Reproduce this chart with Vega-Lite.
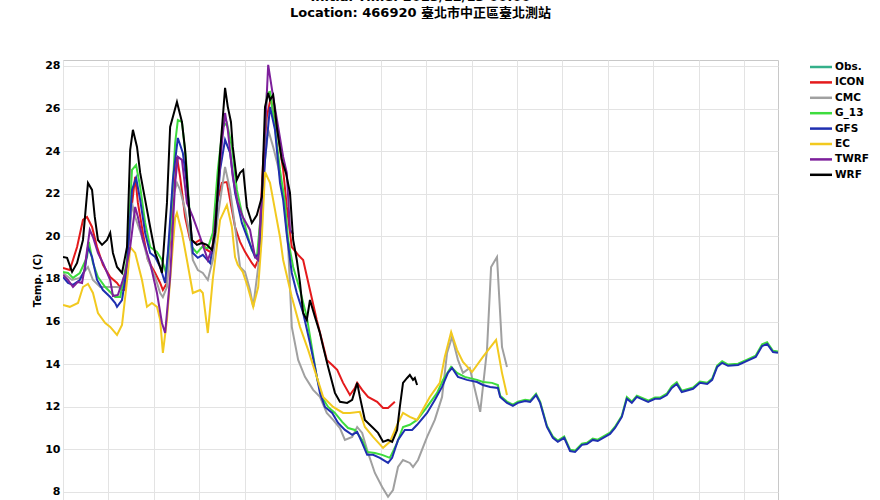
{
"$schema": "https://vega.github.io/schema/vega-lite/v6.json",
"autosize": {"type": "none"},
"padding": {"left": 63, "top": 60, "right": 102, "bottom": 0},
"width": 715,
"height": 440,
"background": "white",
"title": {"text": ["Initial Time: 2023/12/13 00:00", "Location: 466920 臺北市中正區臺北測站"], "font": "DejaVu Sans, Noto Sans CJK TC", "fontSize": 13, "fontWeight": "bold", "lineHeight": 16, "offset": 40, "anchor": "middle", "color": "black"},
"config": {"view": {"stroke": "#c8c8c8", "strokeWidth": 1}, "font": "DejaVu Sans"},
"datasets": {
"ICON": [[0,18.52],[0.15,18.42],[0.31,19.5],[0.44,20.77],[0.53,20.91],[0.64,20.44],[0.75,19.5],[0.88,18.66],[1.04,18.09],[1.19,17.81],[1.3,17.48],[1.37,17.48],[1.48,20.77],[1.59,22.79],[1.65,21.57],[1.76,20.16],[1.87,18.89],[2.03,18.28],[2.14,17.81],[2.2,17.48],[2.29,17.81],[2.4,20.91],[2.51,23.73],[2.58,22.79],[2.69,20.91],[2.8,19.83],[2.91,19.69],[3.02,19.83],[3.17,19.36],[3.28,19.22],[3.39,21.57],[3.5,22.51],[3.61,22.55],[3.68,21.71],[3.79,20.44],[3.9,19.74],[4.01,19.27],[4.16,18.75],[4.23,18.56],[4.3,18.89],[4.41,23.59],[4.49,25.61],[4.58,26.54],[4.63,25.79],[4.74,24.67],[4.85,23.12],[4.93,21.38],[5.04,19.5],[5.18,19.13],[5.29,18.89],[5.44,17.48],[5.59,16.07],[5.7,15.14],[5.81,14.2],[5.93,13.96],[6.04,13.73],[6.17,13.12],[6.32,12.55],[6.43,12.88],[6.48,13.12],[6.59,12.79],[6.72,12.46],[6.92,12.23],[7.05,11.94],[7.16,11.94],[7.31,12.23]]
},
"data": {"values": [
{"m":"ICON","d":0,"t":18.52},{"m":"ICON","d":0.15,"t":18.42},{"m":"ICON","d":0.31,"t":19.5},{"m":"ICON","d":0.44,"t":20.77},{"m":"ICON","d":0.53,"t":20.91},{"m":"ICON","d":0.64,"t":20.44},{"m":"ICON","d":0.75,"t":19.5},{"m":"ICON","d":0.88,"t":18.66},{"m":"ICON","d":1.04,"t":18.09},{"m":"ICON","d":1.19,"t":17.81},{"m":"ICON","d":1.3,"t":17.48},{"m":"ICON","d":1.37,"t":17.48},{"m":"ICON","d":1.48,"t":20.77},{"m":"ICON","d":1.59,"t":22.79},{"m":"ICON","d":1.65,"t":21.57},{"m":"ICON","d":1.76,"t":20.16},{"m":"ICON","d":1.87,"t":18.89},{"m":"ICON","d":2.03,"t":18.28},{"m":"ICON","d":2.14,"t":17.81},{"m":"ICON","d":2.2,"t":17.48},{"m":"ICON","d":2.29,"t":17.81},{"m":"ICON","d":2.4,"t":20.91},{"m":"ICON","d":2.51,"t":23.73},{"m":"ICON","d":2.58,"t":22.79},{"m":"ICON","d":2.69,"t":20.91},{"m":"ICON","d":2.8,"t":19.83},{"m":"ICON","d":2.91,"t":19.69},{"m":"ICON","d":3.02,"t":19.83},{"m":"ICON","d":3.17,"t":19.36},{"m":"ICON","d":3.28,"t":19.22},{"m":"ICON","d":3.39,"t":21.57},{"m":"ICON","d":3.5,"t":22.51},{"m":"ICON","d":3.61,"t":22.55},{"m":"ICON","d":3.68,"t":21.71},{"m":"ICON","d":3.79,"t":20.44},{"m":"ICON","d":3.9,"t":19.74},{"m":"ICON","d":4.01,"t":19.27},{"m":"ICON","d":4.16,"t":18.75},{"m":"ICON","d":4.23,"t":18.56},{"m":"ICON","d":4.3,"t":18.89},{"m":"ICON","d":4.41,"t":23.59},{"m":"ICON","d":4.49,"t":25.61},{"m":"ICON","d":4.58,"t":26.54},{"m":"ICON","d":4.63,"t":25.79},{"m":"ICON","d":4.74,"t":24.67},{"m":"ICON","d":4.85,"t":23.12},{"m":"ICON","d":4.93,"t":21.38},{"m":"ICON","d":5.04,"t":19.5},{"m":"ICON","d":5.18,"t":19.13},{"m":"ICON","d":5.29,"t":18.89},{"m":"ICON","d":5.44,"t":17.48},{"m":"ICON","d":5.59,"t":16.07},{"m":"ICON","d":5.7,"t":15.14},{"m":"ICON","d":5.81,"t":14.2},{"m":"ICON","d":5.93,"t":13.96},{"m":"ICON","d":6.04,"t":13.73},{"m":"ICON","d":6.17,"t":13.12},{"m":"ICON","d":6.32,"t":12.55},{"m":"ICON","d":6.43,"t":12.88},{"m":"ICON","d":6.48,"t":13.12},{"m":"ICON","d":6.59,"t":12.79},{"m":"ICON","d":6.72,"t":12.46},{"m":"ICON","d":6.92,"t":12.23},{"m":"ICON","d":7.05,"t":11.94},{"m":"ICON","d":7.16,"t":11.94},{"m":"ICON","d":7.31,"t":12.23},
{"m":"CMC","d":0,"t":18.28},{"m":"CMC","d":0.2,"t":17.95},{"m":"CMC","d":0.37,"t":18.05},{"m":"CMC","d":0.55,"t":18.56},{"m":"CMC","d":0.66,"t":17.95},{"m":"CMC","d":0.82,"t":17.62},{"m":"CMC","d":1.04,"t":17.62},{"m":"CMC","d":1.19,"t":17.62},{"m":"CMC","d":1.3,"t":17.58},{"m":"CMC","d":1.41,"t":18.42},{"m":"CMC","d":1.52,"t":21.57},{"m":"CMC","d":1.59,"t":20.91},{"m":"CMC","d":1.74,"t":19.97},{"m":"CMC","d":1.87,"t":18.89},{"m":"CMC","d":2.03,"t":18.09},{"m":"CMC","d":2.14,"t":17.34},{"m":"CMC","d":2.2,"t":17.15},{"m":"CMC","d":2.29,"t":17.62},{"m":"CMC","d":2.4,"t":21.71},{"m":"CMC","d":2.51,"t":22.51},{"m":"CMC","d":2.58,"t":22.18},{"m":"CMC","d":2.69,"t":21.24},{"m":"CMC","d":2.8,"t":19.97},{"m":"CMC","d":2.86,"t":18.89},{"m":"CMC","d":2.97,"t":18.42},{"m":"CMC","d":3.08,"t":18.28},{"m":"CMC","d":3.19,"t":17.95},{"m":"CMC","d":3.3,"t":18.89},{"m":"CMC","d":3.41,"t":20.91},{"m":"CMC","d":3.57,"t":23.26},{"m":"CMC","d":3.68,"t":22.18},{"m":"CMC","d":3.79,"t":20.44},{"m":"CMC","d":3.9,"t":18.56},{"m":"CMC","d":4.01,"t":18.33},{"m":"CMC","d":4.12,"t":17.48},{"m":"CMC","d":4.19,"t":16.69},{"m":"CMC","d":4.3,"t":18.56},{"m":"CMC","d":4.41,"t":22.79},{"m":"CMC","d":4.52,"t":25.0},{"m":"CMC","d":4.63,"t":24.2},{"m":"CMC","d":4.74,"t":23.26},{"m":"CMC","d":4.85,"t":22.04},{"m":"CMC","d":4.96,"t":19.5},{"m":"CMC","d":5.04,"t":15.75},{"m":"CMC","d":5.18,"t":14.2},{"m":"CMC","d":5.33,"t":13.4},{"m":"CMC","d":5.51,"t":12.79},{"m":"CMC","d":5.66,"t":12.46},{"m":"CMC","d":5.81,"t":11.71},{"m":"CMC","d":5.95,"t":11.38},{"m":"CMC","d":6.1,"t":11.0},{"m":"CMC","d":6.21,"t":10.44},{"m":"CMC","d":6.37,"t":10.58},{"m":"CMC","d":6.48,"t":11.05},{"m":"CMC","d":6.59,"t":10.77},{"m":"CMC","d":6.72,"t":9.83},{"m":"CMC","d":6.87,"t":8.89},{"m":"CMC","d":7.03,"t":8.23},{"m":"CMC","d":7.16,"t":7.77},{"m":"CMC","d":7.27,"t":8.09},{"m":"CMC","d":7.38,"t":9.17},{"m":"CMC","d":7.49,"t":9.5},{"m":"CMC","d":7.64,"t":9.36},{"m":"CMC","d":7.71,"t":9.17},{"m":"CMC","d":7.82,"t":9.5},{"m":"CMC","d":8.02,"t":10.58},{"m":"CMC","d":8.19,"t":11.38},{"m":"CMC","d":8.35,"t":12.46},{"m":"CMC","d":8.46,"t":14.53},{"m":"CMC","d":8.57,"t":15.28},{"m":"CMC","d":8.7,"t":14.2},{"m":"CMC","d":8.81,"t":13.59},{"m":"CMC","d":8.96,"t":13.82},{"m":"CMC","d":9.19,"t":11.76},{"m":"CMC","d":9.34,"t":14.67},{"m":"CMC","d":9.43,"t":18.56},{"m":"CMC","d":9.56,"t":19.03},{"m":"CMC","d":9.67,"t":14.81},{"m":"CMC","d":9.78,"t":13.87},
{"m":"G_13","d":0,"t":18.33},{"m":"G_13","d":0.11,"t":18.28},{"m":"G_13","d":0.22,"t":18.05},{"m":"G_13","d":0.37,"t":18.28},{"m":"G_13","d":0.53,"t":19.03},{"m":"G_13","d":0.57,"t":19.74},{"m":"G_13","d":0.66,"t":18.75},{"m":"G_13","d":0.77,"t":18.09},{"m":"G_13","d":0.93,"t":17.62},{"m":"G_13","d":1.04,"t":17.39},{"m":"G_13","d":1.15,"t":17.15},{"m":"G_13","d":1.26,"t":17.15},{"m":"G_13","d":1.41,"t":18.89},{"m":"G_13","d":1.52,"t":23.12},{"m":"G_13","d":1.61,"t":23.35},{"m":"G_13","d":1.7,"t":22.32},{"m":"G_13","d":1.81,"t":20.63},{"m":"G_13","d":1.92,"t":19.5},{"m":"G_13","d":2.07,"t":19.27},{"m":"G_13","d":2.18,"t":18.89},{"m":"G_13","d":2.27,"t":18.28},{"m":"G_13","d":2.36,"t":20.16},{"m":"G_13","d":2.47,"t":24.38},{"m":"G_13","d":2.53,"t":25.46},{"m":"G_13","d":2.62,"t":25.37},{"m":"G_13","d":2.71,"t":23.59},{"m":"G_13","d":2.84,"t":19.5},{"m":"G_13","d":2.95,"t":19.22},{"m":"G_13","d":3.06,"t":19.5},{"m":"G_13","d":3.19,"t":19.45},{"m":"G_13","d":3.3,"t":20.16},{"m":"G_13","d":3.41,"t":23.12},{"m":"G_13","d":3.52,"t":25.14},{"m":"G_13","d":3.61,"t":25.32},{"m":"G_13","d":3.72,"t":24.2},{"m":"G_13","d":3.83,"t":22.18},{"m":"G_13","d":3.94,"t":21.1},{"m":"G_13","d":4.05,"t":20.16},{"m":"G_13","d":4.16,"t":19.36},{"m":"G_13","d":4.27,"t":18.99},{"m":"G_13","d":4.38,"t":21.57},{"m":"G_13","d":4.49,"t":26.73},{"m":"G_13","d":4.56,"t":26.78},{"m":"G_13","d":4.67,"t":25.14},{"m":"G_13","d":4.78,"t":23.12},{"m":"G_13","d":4.89,"t":21.57},{"m":"G_13","d":4.96,"t":19.83},{"m":"G_13","d":5.07,"t":18.56},{"m":"G_13","d":5.22,"t":17.48},{"m":"G_13","d":5.37,"t":16.22},{"m":"G_13","d":5.48,"t":14.81},{"m":"G_13","d":5.59,"t":13.4},{"m":"G_13","d":5.7,"t":12.46},{"m":"G_13","d":5.84,"t":11.99},{"m":"G_13","d":5.99,"t":11.71},{"m":"G_13","d":6.15,"t":11.29},{"m":"G_13","d":6.28,"t":11.0},{"m":"G_13","d":6.43,"t":10.91},{"m":"G_13","d":6.59,"t":10.44},{"m":"G_13","d":6.7,"t":9.88},{"m":"G_13","d":6.87,"t":9.83},{"m":"G_13","d":7.03,"t":9.74},{"m":"G_13","d":7.2,"t":9.6},{"m":"G_13","d":7.36,"t":10.3},{"m":"G_13","d":7.49,"t":11.05},{"m":"G_13","d":7.64,"t":11.15},{"m":"G_13","d":7.8,"t":11.38},{"m":"G_13","d":8.02,"t":11.99},{"m":"G_13","d":8.24,"t":12.65},{"m":"G_13","d":8.37,"t":13.26},{"m":"G_13","d":8.55,"t":13.87},{"m":"G_13","d":8.68,"t":13.59},{"m":"G_13","d":8.85,"t":13.4},{"m":"G_13","d":9.12,"t":13.26},{"m":"G_13","d":9.25,"t":13.16},{"m":"G_13","d":9.45,"t":13.12},{"m":"G_13","d":9.58,"t":13.02},{"m":"G_13","d":9.63,"t":12.52},{"m":"G_13","d":9.78,"t":12.24},{"m":"G_13","d":9.91,"t":12.1},{"m":"G_13","d":10.02,"t":12.24},{"m":"G_13","d":10.18,"t":12.33},{"m":"G_13","d":10.29,"t":12.29},{"m":"G_13","d":10.42,"t":12.61},{"m":"G_13","d":10.51,"t":12.24},{"m":"G_13","d":10.66,"t":11.11},{"m":"G_13","d":10.79,"t":10.6},{"m":"G_13","d":10.9,"t":10.41},{"m":"G_13","d":11.04,"t":10.6},{"m":"G_13","d":11.17,"t":9.98},{"m":"G_13","d":11.28,"t":9.94},{"m":"G_13","d":11.43,"t":10.27},{"m":"G_13","d":11.54,"t":10.31},{"m":"G_13","d":11.67,"t":10.5},{"m":"G_13","d":11.78,"t":10.45},{"m":"G_13","d":12.05,"t":10.78},{"m":"G_13","d":12.16,"t":11.06},{"m":"G_13","d":12.31,"t":11.58},{"m":"G_13","d":12.42,"t":12.45},{"m":"G_13","d":12.53,"t":12.24},{"m":"G_13","d":12.64,"t":12.52},{"m":"G_13","d":12.89,"t":12.29},{"m":"G_13","d":13.04,"t":12.43},{"m":"G_13","d":13.15,"t":12.43},{"m":"G_13","d":13.3,"t":12.61},{"m":"G_13","d":13.41,"t":12.96},{"m":"G_13","d":13.52,"t":13.15},{"m":"G_13","d":13.63,"t":12.75},{"m":"G_13","d":13.88,"t":12.9},{"m":"G_13","d":14.03,"t":13.18},{"m":"G_13","d":14.19,"t":13.13},{"m":"G_13","d":14.3,"t":13.32},{"m":"G_13","d":14.41,"t":13.93},{"m":"G_13","d":14.52,"t":14.14},{"m":"G_13","d":14.65,"t":13.98},{"m":"G_13","d":14.87,"t":14.02},{"m":"G_13","d":15.07,"t":14.21},{"m":"G_13","d":15.26,"t":14.4},{"m":"G_13","d":15.4,"t":14.93},{"m":"G_13","d":15.51,"t":15.03},{"m":"G_13","d":15.64,"t":14.63},{"m":"G_13","d":15.75,"t":14.59},
{"m":"GFS","d":0,"t":18.09},{"m":"GFS","d":0.11,"t":17.81},{"m":"GFS","d":0.22,"t":17.72},{"m":"GFS","d":0.37,"t":17.95},{"m":"GFS","d":0.48,"t":18.42},{"m":"GFS","d":0.55,"t":19.5},{"m":"GFS","d":0.64,"t":19.03},{"m":"GFS","d":0.75,"t":17.95},{"m":"GFS","d":0.88,"t":17.48},{"m":"GFS","d":1.04,"t":17.15},{"m":"GFS","d":1.15,"t":16.87},{"m":"GFS","d":1.19,"t":16.69},{"m":"GFS","d":1.3,"t":17.01},{"m":"GFS","d":1.41,"t":18.56},{"m":"GFS","d":1.52,"t":22.18},{"m":"GFS","d":1.61,"t":22.74},{"m":"GFS","d":1.7,"t":21.71},{"m":"GFS","d":1.81,"t":20.16},{"m":"GFS","d":1.92,"t":19.22},{"m":"GFS","d":2.03,"t":19.03},{"m":"GFS","d":2.14,"t":18.56},{"m":"GFS","d":2.25,"t":17.81},{"m":"GFS","d":2.31,"t":19.22},{"m":"GFS","d":2.42,"t":22.65},{"m":"GFS","d":2.53,"t":24.62},{"m":"GFS","d":2.64,"t":23.92},{"m":"GFS","d":2.75,"t":22.04},{"m":"GFS","d":2.86,"t":19.22},{"m":"GFS","d":2.97,"t":18.99},{"m":"GFS","d":3.08,"t":19.13},{"m":"GFS","d":3.24,"t":18.75},{"m":"GFS","d":3.35,"t":20.16},{"m":"GFS","d":3.46,"t":23.12},{"m":"GFS","d":3.57,"t":24.53},{"m":"GFS","d":3.68,"t":23.92},{"m":"GFS","d":3.79,"t":22.04},{"m":"GFS","d":3.94,"t":20.63},{"m":"GFS","d":4.08,"t":19.83},{"m":"GFS","d":4.23,"t":19.03},{"m":"GFS","d":4.34,"t":19.22},{"m":"GFS","d":4.45,"t":23.59},{"m":"GFS","d":4.56,"t":26.08},{"m":"GFS","d":4.67,"t":25.0},{"m":"GFS","d":4.78,"t":22.51},{"m":"GFS","d":4.85,"t":21.7},{"m":"GFS","d":4.93,"t":20.07},{"m":"GFS","d":5.04,"t":18.28},{"m":"GFS","d":5.15,"t":17.34},{"m":"GFS","d":5.29,"t":16.4},{"m":"GFS","d":5.44,"t":14.99},{"m":"GFS","d":5.55,"t":13.87},{"m":"GFS","d":5.66,"t":12.65},{"m":"GFS","d":5.77,"t":11.99},{"m":"GFS","d":5.93,"t":11.71},{"m":"GFS","d":6.06,"t":11.24},{"m":"GFS","d":6.21,"t":10.91},{"m":"GFS","d":6.37,"t":10.68},{"m":"GFS","d":6.48,"t":10.82},{"m":"GFS","d":6.59,"t":10.3},{"m":"GFS","d":6.7,"t":9.74},{"m":"GFS","d":6.83,"t":9.74},{"m":"GFS","d":6.98,"t":9.6},{"m":"GFS","d":7.16,"t":9.36},{"m":"GFS","d":7.25,"t":9.6},{"m":"GFS","d":7.38,"t":10.44},{"m":"GFS","d":7.53,"t":10.91},{"m":"GFS","d":7.69,"t":10.91},{"m":"GFS","d":7.8,"t":11.15},{"m":"GFS","d":8.02,"t":11.71},{"m":"GFS","d":8.19,"t":12.32},{"m":"GFS","d":8.35,"t":12.93},{"m":"GFS","d":8.48,"t":13.59},{"m":"GFS","d":8.57,"t":13.82},{"m":"GFS","d":8.7,"t":13.4},{"m":"GFS","d":8.9,"t":13.26},{"m":"GFS","d":9.12,"t":13.16},{"m":"GFS","d":9.25,"t":13.02},{"m":"GFS","d":9.41,"t":12.93},{"m":"GFS","d":9.58,"t":12.88},{"m":"GFS","d":9.63,"t":12.46},{"m":"GFS","d":9.78,"t":12.18},{"m":"GFS","d":9.91,"t":12.04},{"m":"GFS","d":10.02,"t":12.18},{"m":"GFS","d":10.18,"t":12.27},{"m":"GFS","d":10.29,"t":12.23},{"m":"GFS","d":10.42,"t":12.55},{"m":"GFS","d":10.51,"t":12.18},{"m":"GFS","d":10.66,"t":11.05},{"m":"GFS","d":10.79,"t":10.54},{"m":"GFS","d":10.9,"t":10.35},{"m":"GFS","d":11.04,"t":10.54},{"m":"GFS","d":11.17,"t":9.92},{"m":"GFS","d":11.28,"t":9.88},{"m":"GFS","d":11.43,"t":10.21},{"m":"GFS","d":11.54,"t":10.25},{"m":"GFS","d":11.67,"t":10.44},{"m":"GFS","d":11.78,"t":10.39},{"m":"GFS","d":12.05,"t":10.72},{"m":"GFS","d":12.16,"t":11.0},{"m":"GFS","d":12.31,"t":11.52},{"m":"GFS","d":12.42,"t":12.37},{"m":"GFS","d":12.53,"t":12.18},{"m":"GFS","d":12.64,"t":12.46},{"m":"GFS","d":12.89,"t":12.23},{"m":"GFS","d":13.04,"t":12.37},{"m":"GFS","d":13.15,"t":12.37},{"m":"GFS","d":13.3,"t":12.55},{"m":"GFS","d":13.41,"t":12.88},{"m":"GFS","d":13.52,"t":13.07},{"m":"GFS","d":13.63,"t":12.69},{"m":"GFS","d":13.88,"t":12.84},{"m":"GFS","d":14.03,"t":13.12},{"m":"GFS","d":14.19,"t":13.07},{"m":"GFS","d":14.3,"t":13.26},{"m":"GFS","d":14.41,"t":13.87},{"m":"GFS","d":14.52,"t":14.06},{"m":"GFS","d":14.65,"t":13.92},{"m":"GFS","d":14.87,"t":13.96},{"m":"GFS","d":15.07,"t":14.15},{"m":"GFS","d":15.26,"t":14.34},{"m":"GFS","d":15.4,"t":14.85},{"m":"GFS","d":15.51,"t":14.95},{"m":"GFS","d":15.64,"t":14.57},{"m":"GFS","d":15.75,"t":14.53},
{"m":"EC","d":0,"t":16.78},{"m":"EC","d":0.15,"t":16.69},{"m":"EC","d":0.33,"t":16.87},{"m":"EC","d":0.44,"t":17.62},{"m":"EC","d":0.55,"t":17.77},{"m":"EC","d":0.66,"t":17.34},{"m":"EC","d":0.77,"t":16.4},{"m":"EC","d":0.93,"t":15.93},{"m":"EC","d":1.04,"t":15.75},{"m":"EC","d":1.19,"t":15.37},{"m":"EC","d":1.3,"t":15.84},{"m":"EC","d":1.43,"t":18.28},{"m":"EC","d":1.48,"t":19.5},{"m":"EC","d":1.59,"t":19.22},{"m":"EC","d":1.74,"t":17.95},{"m":"EC","d":1.85,"t":16.69},{"m":"EC","d":1.96,"t":16.87},{"m":"EC","d":2.07,"t":16.69},{"m":"EC","d":2.14,"t":16.08},{"m":"EC","d":2.2,"t":14.53},{"m":"EC","d":2.29,"t":16.08},{"m":"EC","d":2.36,"t":17.95},{"m":"EC","d":2.47,"t":20.86},{"m":"EC","d":2.51,"t":21.1},{"m":"EC","d":2.62,"t":20.16},{"m":"EC","d":2.73,"t":18.89},{"m":"EC","d":2.86,"t":17.34},{"m":"EC","d":3.02,"t":17.48},{"m":"EC","d":3.08,"t":17.34},{"m":"EC","d":3.19,"t":15.46},{"m":"EC","d":3.3,"t":18.0},{"m":"EC","d":3.46,"t":20.77},{"m":"EC","d":3.61,"t":21.47},{"m":"EC","d":3.72,"t":20.44},{"m":"EC","d":3.79,"t":19.03},{"m":"EC","d":3.85,"t":18.66},{"m":"EC","d":3.96,"t":18.33},{"m":"EC","d":4.07,"t":17.62},{"m":"EC","d":4.19,"t":16.69},{"m":"EC","d":4.3,"t":17.62},{"m":"EC","d":4.38,"t":19.97},{"m":"EC","d":4.45,"t":23.02},{"m":"EC","d":4.56,"t":22.51},{"m":"EC","d":4.67,"t":21.24},{"m":"EC","d":4.78,"t":19.97},{"m":"EC","d":4.85,"t":18.89},{"m":"EC","d":5.04,"t":17.15},{"m":"EC","d":5.22,"t":15.75},{"m":"EC","d":5.4,"t":14.67},{"m":"EC","d":5.59,"t":13.4},{"m":"EC","d":5.73,"t":12.46},{"m":"EC","d":5.95,"t":11.99},{"m":"EC","d":6.17,"t":11.71},{"m":"EC","d":6.32,"t":11.71},{"m":"EC","d":6.54,"t":11.76},{"m":"EC","d":6.65,"t":11.05},{"m":"EC","d":6.83,"t":10.58},{"m":"EC","d":7.05,"t":10.07},{"m":"EC","d":7.2,"t":10.35},{"m":"EC","d":7.38,"t":11.24},{"m":"EC","d":7.49,"t":11.71},{"m":"EC","d":7.64,"t":11.52},{"m":"EC","d":7.8,"t":11.38},{"m":"EC","d":8.08,"t":12.46},{"m":"EC","d":8.3,"t":13.12},{"m":"EC","d":8.41,"t":14.34},{"m":"EC","d":8.55,"t":15.51},{"m":"EC","d":8.68,"t":14.67},{"m":"EC","d":8.81,"t":14.1},{"m":"EC","d":9.01,"t":13.63},{"m":"EC","d":9.25,"t":14.34},{"m":"EC","d":9.54,"t":15.14},{"m":"EC","d":9.67,"t":13.59},{"m":"EC","d":9.78,"t":12.55},
{"m":"TWRF","d":0,"t":18.19},{"m":"TWRF","d":0.11,"t":17.95},{"m":"TWRF","d":0.22,"t":17.62},{"m":"TWRF","d":0.33,"t":17.86},{"m":"TWRF","d":0.42,"t":17.81},{"m":"TWRF","d":0.48,"t":18.56},{"m":"TWRF","d":0.59,"t":20.3},{"m":"TWRF","d":0.66,"t":19.97},{"m":"TWRF","d":0.77,"t":19.22},{"m":"TWRF","d":0.88,"t":18.75},{"m":"TWRF","d":1.04,"t":17.95},{"m":"TWRF","d":1.1,"t":17.2},{"m":"TWRF","d":1.21,"t":17.25},{"m":"TWRF","d":1.37,"t":18.28},{"m":"TWRF","d":1.48,"t":19.5},{"m":"TWRF","d":1.59,"t":21.38},{"m":"TWRF","d":1.65,"t":20.91},{"m":"TWRF","d":1.76,"t":19.83},{"m":"TWRF","d":1.92,"t":18.75},{"m":"TWRF","d":2.07,"t":17.34},{"m":"TWRF","d":2.18,"t":15.93},{"m":"TWRF","d":2.25,"t":15.46},{"m":"TWRF","d":2.36,"t":18.09},{"m":"TWRF","d":2.47,"t":22.51},{"m":"TWRF","d":2.53,"t":23.73},{"m":"TWRF","d":2.62,"t":23.59},{"m":"TWRF","d":2.73,"t":21.57},{"m":"TWRF","d":2.86,"t":20.91},{"m":"TWRF","d":3.02,"t":19.97},{"m":"TWRF","d":3.19,"t":18.89},{"m":"TWRF","d":3.3,"t":19.5},{"m":"TWRF","d":3.39,"t":21.57},{"m":"TWRF","d":3.5,"t":24.38},{"m":"TWRF","d":3.57,"t":25.79},{"m":"TWRF","d":3.63,"t":25.0},{"m":"TWRF","d":3.74,"t":22.79},{"m":"TWRF","d":3.85,"t":21.57},{"m":"TWRF","d":3.96,"t":20.91},{"m":"TWRF","d":4.12,"t":20.3},{"m":"TWRF","d":4.23,"t":19.03},{"m":"TWRF","d":4.3,"t":18.89},{"m":"TWRF","d":4.41,"t":23.12},{"m":"TWRF","d":4.52,"t":28.05},{"m":"TWRF","d":4.63,"t":26.54},{"m":"TWRF","d":4.74,"t":25.14},{"m":"TWRF","d":4.85,"t":23.73},{"m":"TWRF","d":4.93,"t":22.98},{"m":"TWRF","d":5.0,"t":20.3},{"m":"TWRF","d":5.07,"t":20.1},
{"m":"WRF","d":0,"t":19.03},{"m":"WRF","d":0.09,"t":18.99},{"m":"WRF","d":0.2,"t":18.33},{"m":"WRF","d":0.31,"t":18.75},{"m":"WRF","d":0.44,"t":19.83},{"m":"WRF","d":0.55,"t":22.51},{"m":"WRF","d":0.64,"t":22.18},{"m":"WRF","d":0.7,"t":20.91},{"m":"WRF","d":0.77,"t":19.83},{"m":"WRF","d":0.86,"t":19.6},{"m":"WRF","d":0.97,"t":19.83},{"m":"WRF","d":1.04,"t":20.16},{"m":"WRF","d":1.1,"t":19.22},{"m":"WRF","d":1.19,"t":18.56},{"m":"WRF","d":1.3,"t":18.28},{"m":"WRF","d":1.41,"t":19.5},{"m":"WRF","d":1.48,"t":24.06},{"m":"WRF","d":1.54,"t":25.0},{"m":"WRF","d":1.63,"t":24.2},{"m":"WRF","d":1.7,"t":22.98},{"m":"WRF","d":1.81,"t":21.71},{"m":"WRF","d":1.92,"t":20.44},{"m":"WRF","d":2.03,"t":19.22},{"m":"WRF","d":2.09,"t":18.89},{"m":"WRF","d":2.18,"t":18.28},{"m":"WRF","d":2.29,"t":21.57},{"m":"WRF","d":2.36,"t":25.14},{"m":"WRF","d":2.51,"t":26.31},{"m":"WRF","d":2.62,"t":25.37},{"m":"WRF","d":2.69,"t":24.06},{"m":"WRF","d":2.75,"t":22.04},{"m":"WRF","d":2.84,"t":19.83},{"m":"WRF","d":2.95,"t":19.6},{"m":"WRF","d":3.06,"t":19.69},{"m":"WRF","d":3.17,"t":19.6},{"m":"WRF","d":3.28,"t":19.36},{"m":"WRF","d":3.35,"t":20.16},{"m":"WRF","d":3.46,"t":23.92},{"m":"WRF","d":3.57,"t":26.97},{"m":"WRF","d":3.63,"t":26.08},{"m":"WRF","d":3.7,"t":25.37},{"m":"WRF","d":3.74,"t":24.2},{"m":"WRF","d":3.83,"t":22.65},{"m":"WRF","d":3.9,"t":22.98},{"m":"WRF","d":3.97,"t":23.12},{"m":"WRF","d":4.05,"t":21.38},{"m":"WRF","d":4.16,"t":20.63},{"m":"WRF","d":4.27,"t":21.0},{"m":"WRF","d":4.38,"t":21.85},{"m":"WRF","d":4.45,"t":26.08},{"m":"WRF","d":4.52,"t":26.73},{"m":"WRF","d":4.56,"t":26.4},{"m":"WRF","d":4.63,"t":26.64},{"m":"WRF","d":4.71,"t":25.14},{"m":"WRF","d":4.82,"t":23.59},{"m":"WRF","d":4.91,"t":22.98},{"m":"WRF","d":5.0,"t":22.04},{"m":"WRF","d":5.07,"t":19.83},{"m":"WRF","d":5.15,"t":18.89},{"m":"WRF","d":5.22,"t":17.81},{"m":"WRF","d":5.29,"t":16.4},{"m":"WRF","d":5.37,"t":16.07},{"m":"WRF","d":5.44,"t":17.01},{"m":"WRF","d":5.55,"t":16.22},{"m":"WRF","d":5.66,"t":15.46},{"m":"WRF","d":5.73,"t":14.81},{"m":"WRF","d":5.84,"t":13.87},{"m":"WRF","d":5.99,"t":12.65},{"m":"WRF","d":6.1,"t":12.23},{"m":"WRF","d":6.26,"t":12.18},{"m":"WRF","d":6.37,"t":12.32},{"m":"WRF","d":6.48,"t":13.12},{"m":"WRF","d":6.54,"t":12.46},{"m":"WRF","d":6.65,"t":11.38},{"m":"WRF","d":6.81,"t":11.05},{"m":"WRF","d":6.94,"t":10.77},{"m":"WRF","d":7.05,"t":10.35},{"m":"WRF","d":7.16,"t":10.44},{"m":"WRF","d":7.25,"t":10.35},{"m":"WRF","d":7.36,"t":10.91},{"m":"WRF","d":7.42,"t":11.99},{"m":"WRF","d":7.49,"t":13.12},{"m":"WRF","d":7.58,"t":13.35},{"m":"WRF","d":7.64,"t":13.49},{"m":"WRF","d":7.71,"t":13.26},{"m":"WRF","d":7.75,"t":13.35},{"m":"WRF","d":7.8,"t":13.02}
]},
"mark": {"type": "line", "strokeWidth": 2, "clip": true},
"encoding": {
"x": {"field": "d", "type": "quantitative", "scale": {"domain": [0, 15.75], "nice": false, "zero": false}, "axis": {"values": [0,1,2,3,4,5,6,7,8,9,10,11,12,13,14,15], "labels": false, "ticks": false, "domain": false, "title": null, "grid": true, "gridColor": "#e3e3e3"}},
"y": {"field": "t", "type": "quantitative", "scale": {"domain": [7.62, 28.28], "nice": false, "zero": false}, "axis": {"values": [8,10,12,14,16,18,20,22,24,26,28], "title": "Temp. (C)", "titleFont": "DejaVu Sans", "titleFontSize": 10, "titleFontWeight": "bold", "titleColor": "black", "titlePadding": 2, "labelFont": "DejaVu Sans", "labelFontSize": 11, "labelFontWeight": "bold", "labelColor": "black", "ticks": false, "labelPadding": 3, "domain": false, "grid": true, "gridColor": "#e3e3e3"}},
"color": {"field": "m", "type": "nominal", "scale": {"domain": ["Obs.", "ICON", "CMC", "G_13", "GFS", "EC", "TWRF", "WRF"], "range": ["#35b08a", "#e41a1c", "#a0a0a0", "#3ddc3d", "#1f2fb0", "#f2c91f", "#7d1f9b", "#000000"]}, "legend": {"title": null, "orient": "none", "legendX": 751, "legendY": 0, "symbolType": "M-2,0H2", "symbolSize": 121, "symbolStrokeWidth": 2.5, "labelFont": "DejaVu Sans", "labelFontSize": 10.5, "labelFontWeight": "bold", "labelColor": "black", "labelOffset": 7, "rowPadding": 2.4}}
}
}
